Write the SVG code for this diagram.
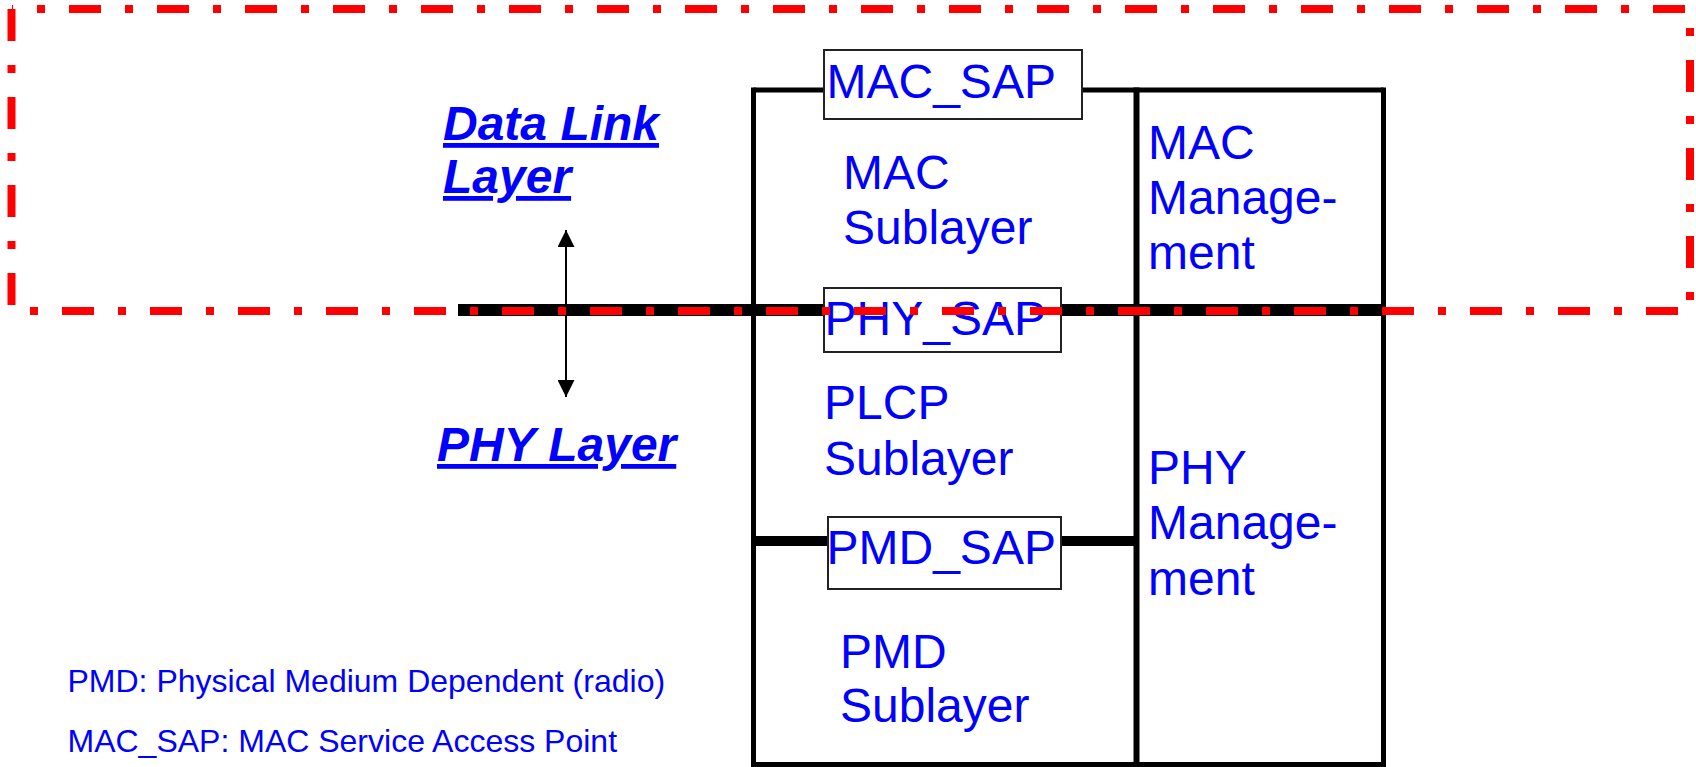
<svg xmlns="http://www.w3.org/2000/svg" width="1696" height="767" viewBox="0 0 1696 767">
<style>
  .lbl { font-family: "Liberation Sans", Arial, sans-serif; font-size: 48px; fill: #0000FF; }
  .lay { font-family: "Liberation Sans", Arial, sans-serif; font-size: 48px; font-weight: bold; font-style: italic; fill: #0000FF; text-decoration: underline; }
  .note { font-family: "Liberation Sans", Arial, sans-serif; font-size: 32px; fill: #0000FF; }
  .frame { stroke: #000; stroke-width: 5; fill: none; }
  .sap { fill: #FFFFFF; stroke: #222; stroke-width: 2; }
  .bnd { stroke: #FF0000; stroke-width: 8; fill: none; stroke-dasharray: 32 24 8 24; }
  .conn { stroke: #000; stroke-width: 2; fill: none; }
</style>
<defs>
  <marker id="ah" viewBox="0 0 18 17" refX="17" refY="8.5" markerWidth="18" markerHeight="17" markerUnits="userSpaceOnUse" orient="auto-start-reverse">
    <path d="M0,0 L17,8.5 L0,17 Z" fill="#000"/>
  </marker>
</defs>
<rect width="1696" height="767" fill="#FFFFFF"/>

<g id="stack">
  <path class="frame" d="M753.5,90 H1383.5"/>
  <path class="frame" d="M753.5,87.5 V767"/>
  <path class="frame" d="M1136.5,87.5 V767" style="stroke-width:6"/>
  <path class="frame" d="M1383.5,87.5 V767"/>
  <path class="frame" d="M751,764.5 H1386"/>
  <path class="frame" d="M458,310 H1386" style="stroke-width:12"/>
  <path class="frame" d="M753,541 H1136" style="stroke-width:10"/>
</g>

<g id="connectors">
  <path class="conn" d="M566,230 V397" marker-start="url(#ah)" marker-end="url(#ah)"/>
</g>

<g id="mac-sap">
  <rect class="sap" x="824" y="50" width="258" height="69"/>
  <text class="lbl" x="826.5" y="98">MAC_SAP</text>
</g>
<g id="phy-sap">
  <rect class="sap" x="824" y="288" width="237" height="64"/>
  <text class="lbl" x="824.5" y="335">PHY_SAP</text>
</g>
<g id="pmd-sap">
  <rect class="sap" x="828" y="517" width="233" height="72"/>
  <text class="lbl" x="826.5" y="564">PMD_SAP</text>
</g>

<g id="mac-sublayer">
  <text class="lbl" x="843" y="189">MAC</text>
  <text class="lbl" x="843" y="244">Sublayer</text>
</g>
<g id="plcp-sublayer">
  <text class="lbl" x="824" y="419">PLCP</text>
  <text class="lbl" x="824" y="475">Sublayer</text>
</g>
<g id="pmd-sublayer">
  <text class="lbl" x="840" y="668">PMD</text>
  <text class="lbl" x="840" y="722">Sublayer</text>
</g>
<g id="mac-management">
  <text class="lbl" x="1148" y="159">MAC</text>
  <text class="lbl" x="1148" y="214">Manage-</text>
  <text class="lbl" x="1148" y="269">ment</text>
</g>
<g id="phy-management">
  <text class="lbl" x="1148" y="484">PHY</text>
  <text class="lbl" x="1148" y="539">Manage-</text>
  <text class="lbl" x="1148" y="595">ment</text>
</g>

<g id="data-link-layer">
  <text class="lay" x="443" y="140">Data Link</text>
  <text class="lay" x="443" y="193">Layer</text>
</g>
<g id="phy-layer">
  <text class="lay" x="437" y="461">PHY Layer</text>
</g>

<g id="notes">
  <text class="note" x="67.5" y="692">PMD: Physical Medium Dependent (radio)</text>
  <text class="note" x="67.5" y="752">MAC_SAP: MAC Service Access Point</text>
</g>

<g id="boundary">
  <path class="bnd" d="M12,9 H1690" stroke-dashoffset="31"/>
  <path class="bnd" d="M12,311 H1690" stroke-dashoffset="38"/>
  <path class="bnd" d="M11.5,9 V311" stroke-dashoffset="0"/>
  <path class="bnd" d="M1690,9 V311" stroke-dashoffset="37"/>
</g>
</svg>
